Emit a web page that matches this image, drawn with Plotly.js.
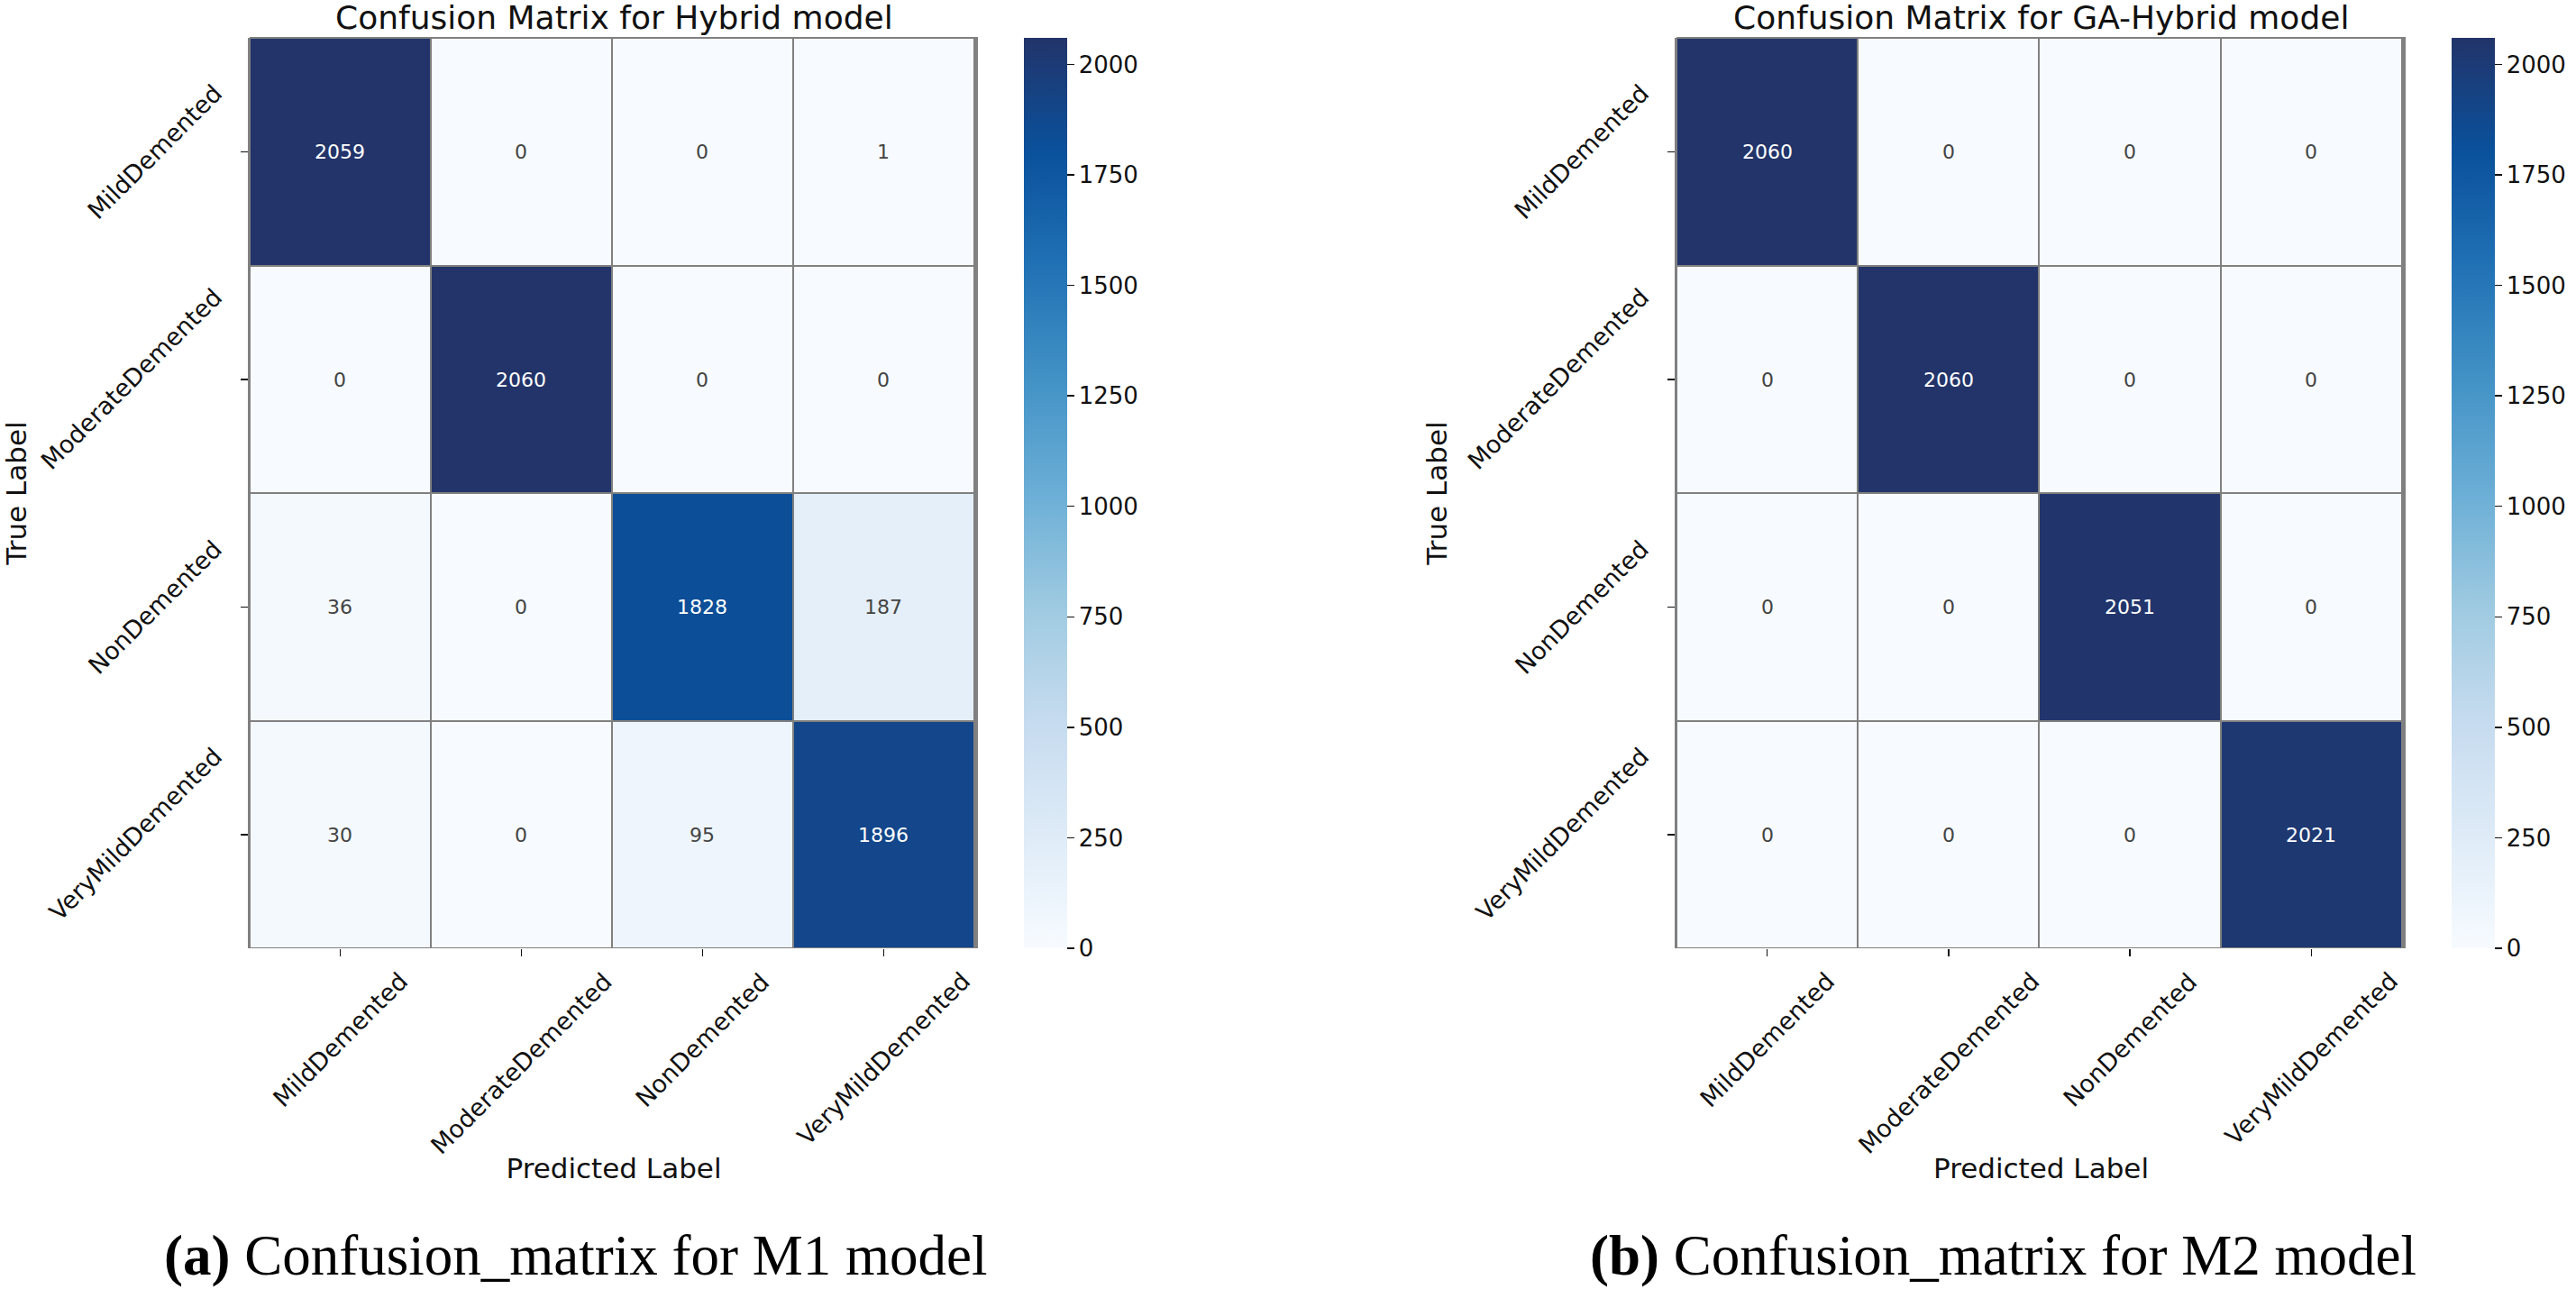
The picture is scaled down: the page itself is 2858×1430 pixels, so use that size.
<!DOCTYPE html>
<html>
<head>
<meta charset="utf-8">
<script src="https://cdn.plot.ly/plotly-3.0.1.min.js"></script>
<style>html,body{margin:0;padding:0;background:#fff;}#chart{width:2858px;height:1430px;}</style>
</head>
<body>
<div id="chart"></div>
<script>
// ---- data ----
const classLabels = ['MildDemented', 'ModerateDemented', 'NonDemented', 'VeryMildDemented'];
const hybridMatrix = [
  [2059, 0, 0, 1],
  [0, 2060, 0, 0],
  [36, 0, 1828, 187],
  [30, 0, 95, 1896]
];
const gaHybridMatrix = [
  [2060, 0, 0, 0],
  [0, 2060, 0, 0],
  [0, 0, 2051, 0],
  [0, 0, 0, 2021]
];
const colorbarTicks = [0, 250, 500, 750, 1000, 1250, 1500, 1750, 2000];
const plotTitles = ['Confusion Matrix for Hybrid model', 'Confusion Matrix for GA-Hybrid model'];
const captionTags = ['(a)', '(b)'];
const captionTexts = ['Confusion_matrix for M1 model', 'Confusion_matrix for M2 model'];
const xAxisTitle = 'Predicted Label';
const yAxisTitle = 'True Label';

// ---- styling ----
const W = 2858, H = 1430;
const FONT = 'DejaVu Sans, sans-serif';
const TXT = '#111111';
const blues = [
  [0.0, '#f7fbff'], [0.125, '#deebf7'], [0.25, '#c6dbef'], [0.375, '#9ecae1'],
  [0.5, '#6baed6'], [0.625, '#4292c6'], [0.75, '#2171b5'], [0.875, '#0a519c'], [1.0, '#22346a']
];
const panels = [
  {z: hybridMatrix, x0: 277, x1: 1085, cbx: 1136, xa: 'x', ya: 'y', capX: 638},
  {z: gaHybridMatrix, x0: 1860, x1: 2669, cbx: 2720, xa: 'x2', ya: 'y2', capX: 2222}
];
const yTop = 42, yBot = 1052;
const domY = [1 - yBot / H, 1 - yTop / H];

const data = [];
const annotations = [];
const shapes = [];
const layout = {
  width: W, height: H,
  margin: {l: 0, r: 0, t: 0, b: 0},
  paper_bgcolor: '#ffffff',
  plot_bgcolor: '#808080',
  font: {family: FONT, color: TXT, size: 25},
  showlegend: false
};

panels.forEach((p, i) => {
  const allZ = p.z.flat();
  data.push({
    type: 'heatmap',
    z: p.z,
    x: classLabels,
    y: classLabels,
    xaxis: p.xa, yaxis: p.ya,
    colorscale: blues,
    zmin: Math.min(...allZ), zmax: Math.max(...allZ),
    xgap: 2, ygap: 2,
    texttemplate: '%{z}',
    textfont: {family: FONT, size: 22},
    hoverinfo: 'skip',
    colorbar: {
      x: p.cbx / W, xanchor: 'left', xpad: 0,
      y: domY[1], yanchor: 'top', ypad: 0,
      len: domY[1] - domY[0], lenmode: 'fraction',
      thickness: 48, thicknessmode: 'pixels',
      outlinewidth: 0,
      tickvals: colorbarTicks,
      ticks: 'outside', ticklen: 8, tickwidth: 1.5, tickcolor: TXT,
      tickfont: {family: FONT, size: 26, color: TXT}
    }
  });
  const xk = i === 0 ? 'xaxis' : 'xaxis2';
  const yk = i === 0 ? 'yaxis' : 'yaxis2';
  layout[xk] = {
    domain: [p.x0 / W, p.x1 / W],
    anchor: p.ya,
    type: 'category',
    showgrid: false, zeroline: false, showline: false,
    ticks: 'outside', ticklen: 8, tickwidth: 1.5, tickcolor: TXT,
    showticklabels: false,
    fixedrange: true,
    title: {text: xAxisTitle, font: {family: FONT, size: 31, color: TXT}, standoff: 225}
  };
  layout[yk] = {
    domain: domY,
    anchor: p.xa,
    type: 'category',
    autorange: 'reversed',
    showgrid: false, zeroline: false,
    showline: true, linecolor: '#808080', linewidth: 2,
    ticks: 'outside', ticklen: 8, tickwidth: 1.5, tickcolor: TXT,
    showticklabels: false,
    fixedrange: true,
    title: {text: yAxisTitle, font: {family: FONT, size: 31, color: TXT}, standoff: 235}
  };
  const xdom = p.xa + ' domain', ydom = p.ya + ' domain';
  shapes.push({type: 'line', xref: xdom, yref: ydom, x0: 0, x1: 1, y0: 1, y1: 1,
               line: {color: '#808080', width: 2}});
  // title
  annotations.push({
    xref: xdom, yref: ydom, x: 0.5, y: 1, xanchor: 'center', yanchor: 'bottom', yshift: 0,
    text: plotTitles[i], showarrow: false, font: {family: FONT, size: 36, color: TXT}
  });
  // rotated tick labels
  classLabels.forEach(c => {
    annotations.push({
      xref: xdom, yref: p.ya, x: 0, y: c, xanchor: 'right', yanchor: 'middle', xshift: -22,
      text: c, textangle: -45, showarrow: false, font: {family: FONT, size: 27, color: TXT}
    });
    annotations.push({
      xref: p.xa, yref: ydom, x: c, y: 0, xanchor: 'center', yanchor: 'top', yshift: -18,
      text: c, textangle: -45, showarrow: false, font: {family: FONT, size: 27, color: TXT}
    });
  });
  // caption
  annotations.push({
    xref: 'paper', yref: 'paper', x: p.capX / W, y: 0, xanchor: 'center', yanchor: 'bottom', yshift: 0,
    text: '<b>' + captionTags[i] + '</b> ' + captionTexts[i], showarrow: false,
    font: {family: 'Liberation Serif, serif', size: 63, color: '#000000'}
  });
});
layout.annotations = annotations;
layout.shapes = shapes;

Plotly.newPlot('chart', data, layout, {staticPlot: true, displayModeBar: false});
</script>
</body>
</html>
